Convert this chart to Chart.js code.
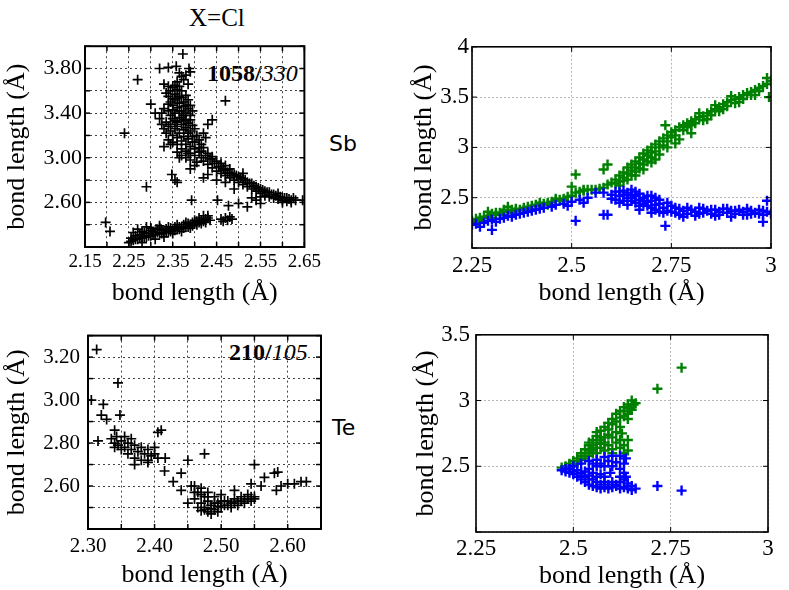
<!DOCTYPE html>
<html lang="en">
<head>
<meta charset="UTF-8">
<title>Bond length scatter, X=Cl</title>
<script src="https://cdn.jsdelivr.net/npm/chart.js"></script>
<style>
  body { margin: 0; background: #fff; }
  #page { position: relative; width: 789px; height: 590px; overflow: hidden; background: #fff; }
  canvas { position: absolute; }
  .txt { position: absolute; color: #000; white-space: nowrap; line-height: 1; }
  .serif { font-family: "Liberation Serif", "Times New Roman", serif; }
  .sans { font-family: "DejaVu Sans", sans-serif; }
</style>
</head>
<body>
<div id="page">
  <div class="txt serif" style="left:189px; top:5px; font-size:25px;">X=Cl</div>
  <div class="txt sans" style="left:329px; top:133px; font-size:22px;">Sb</div>
  <div class="txt sans" style="left:332px; top:417px; font-size:22px;">Te</div>
  <div class="txt serif" style="left:207px; top:61px; font-size:24px;"><b>1058/</b><i>330</i></div>
  <div class="txt serif" style="left:229px; top:340px; font-size:24px;"><b>210/</b><i>105</i></div>

  <canvas id="sbCl" width="325" height="280" style="left:0; top:30px;"></canvas>
  <canvas id="sbRight" width="395" height="280" style="left:390px; top:30px;"></canvas>
  <canvas id="teCl" width="330" height="277" style="left:0; top:315px;"></canvas>
  <canvas id="teRight" width="395" height="277" style="left:390px; top:315px;"></canvas>
</div>

<script>
// ---- data ----
const axisTitle = 'bond length (\u00c5)';

// Sb, X=Cl (left, black crosses)
const sbClPoints = [
  [2.373,3.93],[2.27,3.70],[2.32,3.80],[2.34,3.81],[2.358,3.82],[2.387,3.80],[2.39,3.77],[2.47,3.51],
  [2.24,3.22],[2.33,3.10],[2.29,2.74],[2.348,2.85],[2.355,2.80],[2.36,2.78],[2.197,2.42],[2.207,2.34],
  [2.393,2.62],[2.452,2.62],[2.477,2.57],[2.50,2.59],[2.52,2.56],[2.55,2.59],[2.646,2.62],[2.30,3.48],[2.31,3.40],
  [2.33,3.66],[2.34,3.64],[2.345,3.60],[2.35,3.63],[2.355,3.57],[2.36,3.61],[2.365,3.55],[2.37,3.60],
  [2.375,3.50],[2.38,3.56],[2.385,3.66],[2.375,3.70],[2.37,3.73],[2.365,3.76],[2.38,3.74],[2.36,3.68],
  [2.34,3.55],[2.345,3.50],[2.35,3.47],[2.355,3.52],[2.36,3.45],[2.365,3.49],[2.37,3.42],[2.375,3.46],
  [2.38,3.40],[2.385,3.44],[2.39,3.38],[2.395,3.42],[2.34,3.42],[2.345,3.38],[2.35,3.35],[2.355,3.40],
  [2.36,3.32],[2.365,3.36],[2.37,3.30],[2.375,3.34],[2.38,3.27],[2.385,3.31],[2.39,3.24],[2.395,3.29],
  [2.40,3.26],[2.405,3.20],[2.32,3.35],[2.325,3.30],[2.33,3.26],[2.335,3.22],[2.34,3.28],[2.345,3.24],
  [2.35,3.20],[2.355,3.26],[2.36,3.18],[2.365,3.22],[2.37,3.15],[2.375,3.19],[2.38,3.12],[2.385,3.17],
  [2.39,3.10],[2.395,3.14],[2.40,3.08],[2.41,3.16],[2.415,3.12],[2.42,3.22],[2.43,3.30],[2.44,3.34],
  [2.425,3.18],[2.36,3.05],[2.365,3.00],[2.37,3.02],[2.38,3.00],[2.385,3.04],[2.39,2.98],[2.40,3.02],[2.405,2.96],
  [2.335,3.58],[2.34,3.48],[2.35,3.43],[2.355,3.33],[2.36,3.28],[2.365,3.64],[2.37,3.54],[2.375,3.38],
  [2.38,3.33],[2.385,3.22],[2.39,3.34],[2.395,3.19],[2.40,3.14],[2.41,3.09],[2.345,3.30],[2.35,3.53],
  [2.355,3.65],[2.36,3.53],[2.365,3.42],[2.37,3.36],[2.375,3.25],[2.38,3.47],[2.385,3.52],[2.39,3.47],
  [2.33,3.44],[2.325,3.40],[2.335,3.32],[2.34,3.16],[2.345,3.12],[2.35,3.14],[2.36,3.12],[2.37,3.08],
  [2.38,3.06],[2.39,3.04],
  [2.41,3.05],[2.415,3.00],[2.42,2.97],[2.425,3.02],[2.43,2.94],[2.435,2.99],[2.44,2.91],[2.445,2.95],
  [2.45,2.88],[2.455,2.92],[2.46,2.86],[2.465,2.90],[2.47,2.84],[2.475,2.87],[2.48,2.82],[2.485,2.86],
  [2.49,2.80],[2.495,2.84],[2.50,2.78],[2.505,2.82],[2.51,2.76],[2.515,2.80],[2.52,2.74],[2.525,2.77],
  [2.53,2.72],[2.535,2.75],[2.54,2.70],[2.545,2.73],[2.55,2.68],[2.555,2.71],[2.56,2.66],[2.565,2.69],
  [2.57,2.65],[2.575,2.67],[2.58,2.64],[2.585,2.66],[2.59,2.63],[2.595,2.65],[2.60,2.62],[2.605,2.64],
  [2.61,2.61],[2.615,2.63],[2.62,2.62],[2.60,2.60],[2.59,2.68],[2.43,2.85],[2.42,2.82],[2.45,2.80],
  [2.47,2.78],[2.49,2.72],[2.55,2.65],[2.53,2.64],[2.54,2.62],[2.44,2.99],[2.46,2.95],[2.48,2.90],
  [2.51,2.86],[2.47,2.93],[2.40,2.93],[2.39,2.90],
  [2.415,3.06],[2.42,3.09],[2.43,3.04],[2.44,3.01],[2.45,2.97],[2.46,2.92],[2.47,2.89],[2.48,2.86],
  [2.49,2.85],[2.50,2.83],[2.51,2.81],[2.52,2.78],[2.53,2.77],[2.54,2.74],[2.55,2.72],[2.56,2.70],
  [2.57,2.69],[2.58,2.67],[2.60,2.64],[2.61,2.64],[2.62,2.60],[2.63,2.62],[2.625,2.64],
  [2.25,2.24],[2.255,2.28],[2.26,2.26],[2.265,2.30],[2.27,2.27],[2.275,2.31],[2.28,2.28],[2.285,2.33],
  [2.29,2.29],[2.295,2.32],[2.30,2.30],[2.305,2.34],[2.31,2.31],[2.315,2.33],[2.32,2.32],[2.325,2.35],
  [2.33,2.33],[2.335,2.36],[2.34,2.34],[2.345,2.37],[2.35,2.35],[2.355,2.38],[2.36,2.36],[2.365,2.38],
  [2.37,2.37],[2.375,2.40],[2.38,2.38],[2.385,2.41],[2.39,2.40],[2.395,2.42],[2.40,2.41],[2.405,2.43],
  [2.41,2.42],[2.415,2.44],[2.42,2.43],[2.425,2.45],[2.43,2.46],[2.27,2.36],[2.29,2.38],[2.28,2.24],
  [2.31,2.27],[2.33,2.29],[2.26,2.33],[2.30,2.37],[2.32,2.39],[2.35,2.32],[2.37,2.34],[2.39,2.37],
  [2.41,2.46],[2.42,2.48],[2.46,2.45],[2.465,2.43],[2.47,2.46],[2.475,2.44],[2.48,2.47],[2.485,2.45],
  [2.255,2.25],[2.265,2.27],[2.275,2.28],[2.285,2.29],[2.295,2.30],[2.305,2.31],[2.315,2.36],[2.325,2.32],
  [2.335,2.33],[2.345,2.34],[2.355,2.35],[2.365,2.36],[2.375,2.37],[2.385,2.38],[2.395,2.39],[2.405,2.40],
  [2.415,2.41],[2.425,2.42],[2.435,2.44],[2.43,2.48],[2.28,2.34],[2.30,2.35],[2.32,2.37],[2.34,2.38],
  [2.36,2.40],[2.38,2.42],[2.40,2.44]
];
const sbClXGrid = [2.15,2.20,2.25,2.30,2.35,2.40,2.45,2.50,2.55,2.60,2.65];
const sbClXLabels = [2.15,2.25,2.35,2.45,2.55,2.65];
const sbClYGrid = [2.2,2.4,2.6,2.8,3.0,3.2,3.4,3.6,3.8,4.0];
const sbClYLabels = [2.6,3.0,3.4,3.8];

// Sb (right, green = long bond, blue = short bond)
const sbGreenPoints = [
  [2.25,2.27],[2.26,2.29],[2.27,2.30],[2.265,2.26],[2.28,2.31],[2.29,2.32],[2.30,2.34],[2.30,2.30],
  [2.31,2.33],[2.32,2.35],[2.33,2.36],[2.33,2.33],[2.34,2.37],[2.35,2.38],[2.35,2.35],[2.36,2.39],
  [2.37,2.38],[2.38,2.40],[2.39,2.41],[2.40,2.42],[2.40,2.39],[2.41,2.43],[2.42,2.42],[2.43,2.44],
  [2.44,2.45],[2.45,2.46],[2.46,2.47],[2.47,2.48],[2.48,2.49],[2.49,2.51],[2.50,2.52],[2.51,2.55],
  [2.52,2.56],[2.53,2.57],[2.54,2.58],[2.55,2.58],[2.56,2.58],[2.57,2.59],[2.58,2.60],[2.59,2.63],
  [2.60,2.65],[2.61,2.68],[2.62,2.72],[2.62,2.66],[2.63,2.75],[2.63,2.70],[2.64,2.80],[2.64,2.74],
  [2.65,2.83],[2.65,2.77],[2.66,2.86],[2.66,2.80],[2.67,2.90],[2.67,2.84],[2.68,2.94],[2.68,2.88],
  [2.69,2.97],[2.69,2.92],[2.70,3.00],[2.70,2.95],[2.71,3.03],[2.72,3.06],[2.72,3.00],[2.73,3.09],
  [2.74,3.12],[2.75,3.15],[2.75,3.10],[2.76,3.17],[2.77,3.20],[2.78,3.22],[2.79,3.24],[2.80,3.26],
  [2.80,3.22],[2.81,3.28],[2.82,3.30],[2.83,3.31],[2.84,3.34],[2.85,3.36],[2.86,3.38],[2.87,3.40],
  [2.88,3.43],[2.89,3.45],[2.90,3.47],[2.91,3.48],[2.92,3.50],[2.93,3.52],[2.94,3.54],[2.95,3.55],
  [2.96,3.57],[2.97,3.59],[2.98,3.61],[2.99,3.63],[2.99,3.69],[3.0,3.66],[2.995,3.50],
  [2.51,2.73],[2.58,2.78],[2.59,2.83],[2.735,3.22],[2.53,2.58],[2.50,2.61],[2.71,2.88],[2.76,3.04],
  [2.34,2.41],[2.29,2.36],
  [2.27,2.28],[2.29,2.30],[2.31,2.35],[2.33,2.38],[2.36,2.37],[2.38,2.38],[2.42,2.45],[2.44,2.43],
  [2.46,2.49],[2.48,2.47],[2.61,2.64],[2.63,2.67],[2.65,2.72],[2.66,2.76],[2.67,2.79],[2.68,2.83],
  [2.69,2.86],[2.70,2.90],[2.71,2.96],[2.73,3.02],[2.74,3.06],[2.76,3.12],[2.78,3.17],[2.79,3.20],
  [2.81,3.24],[2.83,3.27],[2.85,3.32],[2.87,3.36],[2.89,3.41],[2.91,3.44],[2.93,3.48],[2.95,3.52],[2.97,3.56],
  [2.62,2.62],[2.64,2.68],[2.66,2.72],[2.68,2.78],[2.70,2.85],[2.72,2.93],[2.74,3.00],[2.77,3.08],
  [2.80,3.14],[2.84,3.28],[2.88,3.38],[2.92,3.45],[2.96,3.52],[2.82,3.34],[2.86,3.42],[2.90,3.51]
];
const sbBluePoints = [
  [2.25,2.23],[2.26,2.24],[2.27,2.21],[2.28,2.25],[2.29,2.27],[2.30,2.18],[2.30,2.28],[2.31,2.26],
  [2.32,2.29],[2.33,2.30],[2.34,2.32],[2.35,2.31],[2.36,2.33],[2.37,2.34],[2.38,2.35],[2.39,2.36],
  [2.40,2.37],[2.41,2.38],[2.42,2.39],[2.43,2.40],[2.45,2.41],[2.46,2.43],[2.48,2.44],[2.49,2.42],
  [2.50,2.46],[2.51,2.27],[2.52,2.48],[2.53,2.45],[2.54,2.50],[2.56,2.55],[2.58,2.33],[2.59,2.33],
  [2.58,2.55],[2.60,2.53],[2.61,2.56],[2.62,2.52],[2.63,2.57],[2.64,2.50],[2.64,2.55],[2.65,2.58],
  [2.65,2.47],[2.66,2.52],[2.66,2.45],[2.67,2.54],[2.67,2.48],[2.68,2.44],[2.68,2.50],[2.69,2.52],
  [2.69,2.42],[2.70,2.47],[2.70,2.40],[2.71,2.50],[2.71,2.38],[2.72,2.44],[2.72,2.36],[2.73,2.40],
  [2.735,2.22],[2.74,2.37],[2.75,2.42],[2.76,2.35],[2.77,2.39],[2.78,2.37],[2.79,2.34],[2.80,2.38],
  [2.81,2.36],[2.82,2.40],[2.83,2.35],[2.84,2.37],[2.85,2.34],[2.86,2.38],[2.87,2.36],[2.88,2.39],
  [2.89,2.35],[2.90,2.37],[2.91,2.34],[2.92,2.38],[2.93,2.36],[2.94,2.33],[2.95,2.37],[2.96,2.35],
  [2.97,2.38],[2.98,2.33],[2.98,2.26],[2.99,2.36],[2.99,2.47],[3.0,2.34],
  [2.60,2.49],[2.62,2.56],[2.63,2.47],[2.65,2.53],[2.67,2.42],[2.69,2.46],[2.71,2.43],[2.73,2.35],
  [2.75,2.36],[2.77,2.33],[2.79,2.40],[2.81,2.32],[2.83,2.39],[2.85,2.38],[2.87,2.33],[2.89,2.39],
  [2.91,2.37],[2.93,2.33],[2.95,2.34],[2.97,2.34],
  [2.61,2.48],[2.63,2.53],[2.65,2.50],[2.66,2.56],[2.68,2.47],[2.70,2.52],[2.72,2.48],[2.74,2.45],
  [2.76,2.40],[2.62,2.45],[2.64,2.43],[2.67,2.38],[2.70,2.35],[2.78,2.31],[2.82,2.34],[2.86,2.32],
  [2.90,2.31],[2.94,2.39],[2.98,2.37]
];
const rightXGrid = [2.25,2.5,2.75,3];
const rightXLabels = ['2.25','2.5','2.75','3'];
const sbRightYGrid = [2,2.5,3,3.5,4];
const sbRightYLabels = ['','2.5','3','3.5','4'];

// Te, X=Cl (left, black crosses)
const teClPoints = [
  [2.313,3.235],[2.345,3.08],[2.305,3.00],[2.323,2.98],[2.32,2.93],[2.328,2.91],[2.348,2.93],[2.315,2.81],
  [2.34,2.86],[2.343,2.83],[2.335,2.82],[2.34,2.80],[2.345,2.79],[2.35,2.81],[2.355,2.78],[2.36,2.80],
  [2.365,2.77],[2.37,2.79],[2.375,2.76],[2.38,2.78],[2.385,2.75],[2.39,2.77],[2.395,2.74],[2.40,2.75],
  [2.405,2.73],[2.34,2.78],[2.35,2.77],[2.36,2.75],[2.37,2.73],[2.38,2.72],[2.39,2.72],[2.355,2.83],
  [2.365,2.82],[2.405,2.85],[2.41,2.86],[2.40,2.78],[2.37,2.70],[2.39,2.71],[2.416,2.73],[2.45,2.72],
  [2.415,2.67],[2.428,2.62],[2.44,2.66],[2.475,2.75],[2.44,2.58],[2.455,2.60],[2.45,2.52],
  [2.46,2.60],[2.465,2.57],[2.47,2.59],[2.475,2.55],[2.48,2.57],[2.46,2.54],[2.47,2.52],[2.475,2.50],
  [2.48,2.53],[2.485,2.51],[2.49,2.49],[2.49,2.55],[2.495,2.52],[2.50,2.50],[2.50,2.56],[2.505,2.51],
  [2.48,2.48],[2.47,2.485],[2.485,2.47],[2.495,2.48],[2.465,2.50],
  [2.475,2.49],[2.485,2.495],[2.49,2.52],[2.48,2.55],[2.47,2.56],[2.46,2.57],[2.50,2.53],[2.495,2.505],
  [2.505,2.53],[2.515,2.50],[2.525,2.51],[2.535,2.52],[2.545,2.53],[2.55,2.54],
  [2.51,2.51],[2.515,2.52],[2.52,2.52],[2.525,2.53],[2.53,2.53],[2.535,2.54],[2.54,2.54],[2.545,2.55],
  [2.55,2.55],[2.51,2.53],[2.52,2.54],[2.53,2.55],[2.54,2.56],
  [2.52,2.58],[2.545,2.61],[2.55,2.70],[2.565,2.64],[2.58,2.66],[2.585,2.665],[2.583,2.58],[2.59,2.60],
  [2.60,2.61],[2.61,2.61],[2.62,2.62],[2.628,2.62],[2.56,2.60]
];
const teClXGrid = [2.30,2.35,2.40,2.45,2.50,2.55,2.60,2.65];
const teClXLabels = [2.30,2.40,2.50,2.60];
const teClYGrid = [2.4,2.5,2.6,2.7,2.8,2.9,3.0,3.1,3.2,3.3];
const teClYLabels = [2.6,2.8,3.0,3.2];

// Te (right, green = long bond, blue = short bond)
const teGreenPoints = [
  [2.47,2.49],[2.48,2.50],[2.49,2.52],[2.50,2.54],[2.51,2.56],[2.52,2.60],[2.53,2.63],[2.54,2.66],
  [2.55,2.70],[2.56,2.73],[2.57,2.77],[2.58,2.80],[2.59,2.83],[2.60,2.86],[2.61,2.90],[2.62,2.92],
  [2.63,2.95],[2.64,2.97],[2.65,3.00],[2.66,2.98],[2.645,2.94],[2.63,2.88],[2.64,2.86],[2.62,2.87],
  [2.61,2.84],[2.60,2.82],[2.59,2.78],[2.57,2.72],[2.55,2.66],[2.53,2.60],[2.51,2.54],[2.50,2.51],
  [2.52,2.55],[2.54,2.58],[2.56,2.60],[2.58,2.62],[2.60,2.63],[2.62,2.64],[2.63,2.66],[2.62,2.70],
  [2.625,2.75],[2.61,2.68],[2.59,2.66],[2.57,2.64],[2.55,2.62],[2.56,2.68],[2.58,2.72],[2.54,2.68],
  [2.53,2.56],[2.49,2.50],[2.56,2.76],[2.57,2.70],[2.545,2.63],[2.60,2.60],[2.63,2.60],
  [2.52,2.58],[2.54,2.62],[2.56,2.64],[2.58,2.68],[2.60,2.72],[2.61,2.76],[2.62,2.80],[2.64,2.90],
  [2.65,2.93],[2.655,2.97],[2.63,2.92],[2.59,2.74],[2.57,2.67],[2.55,2.60],[2.51,2.52],[2.48,2.49],
  [2.64,2.62],[2.64,2.70],
  [2.716,3.09],[2.778,3.25]
];
const teBluePoints = [
  [2.47,2.47],[2.48,2.46],[2.49,2.45],[2.50,2.44],[2.51,2.42],[2.52,2.40],[2.53,2.38],[2.54,2.36],
  [2.55,2.35],[2.56,2.34],[2.57,2.33],[2.58,2.34],[2.59,2.33],[2.60,2.34],[2.61,2.35],[2.62,2.33],
  [2.63,2.34],[2.64,2.33],[2.65,2.32],[2.66,2.33],[2.64,2.37],[2.63,2.40],[2.62,2.42],[2.63,2.45],
  [2.62,2.48],[2.63,2.52],[2.635,2.56],[2.62,2.58],[2.60,2.58],[2.58,2.57],[2.56,2.55],[2.54,2.54],
  [2.52,2.52],[2.50,2.50],[2.49,2.48],[2.51,2.47],[2.53,2.46],[2.55,2.45],[2.57,2.44],[2.58,2.42],
  [2.55,2.40],[2.53,2.42],[2.56,2.38],[2.58,2.38],[2.60,2.38],[2.595,2.45],[2.60,2.50],[2.58,2.50],
  [2.56,2.50],[2.54,2.48],[2.61,2.53],[2.635,2.42],[2.62,2.38],
  [2.48,2.48],[2.50,2.46],[2.52,2.45],[2.54,2.43],[2.52,2.43],[2.54,2.40],[2.56,2.42],[2.57,2.36],
  [2.59,2.36],[2.61,2.36],[2.64,2.35],[2.65,2.35],[2.57,2.52],[2.59,2.54],[2.55,2.52],
  [2.716,2.35],[2.778,2.315]
];
const teRightYGrid = [2,2.5,3,3.5];
const teRightYLabels = ['','2.5','3','3.5'];

// ---- drawing ----
const SERIF = '"Liberation Serif", "Times New Roman", serif';
const toXY = pts => pts.map(p => ({ x: p[0], y: p[1] }));
const near = (a, b) => Math.abs(a - b) < 1e-6;

// full box and inward tick marks, as the original plots have
const framePlugin = {
  id: 'frame',
  afterDraw(chart, args, opts) {
    const { ctx, chartArea: a, scales } = chart;
    ctx.save();
    ctx.strokeStyle = '#000';
    ctx.lineWidth = opts.tickWidth;
    const seg = (x1, y1, x2, y2) => { ctx.beginPath(); ctx.moveTo(x1, y1); ctx.lineTo(x2, y2); ctx.stroke(); };
    scales.x.ticks.forEach(t => {
      const px = scales.x.getPixelForValue(t.value);
      seg(px, a.bottom, px, a.bottom - opts.tickLen);
      seg(px, a.top, px, a.top + opts.tickLen);
    });
    scales.y.ticks.forEach(t => {
      const py = scales.y.getPixelForValue(t.value);
      seg(a.left, py, a.left + opts.tickLen, py);
      seg(a.right, py, a.right - opts.tickLen, py);
    });
    ctx.lineWidth = opts.boxWidth;
    ctx.strokeRect(a.left, a.top, a.right - a.left, a.bottom - a.top);
    ctx.restore();
  }
};

function makePanel(id, cfg) {
  const axis = (grid, labelFn, min, max, size, tickSize, tickPad, titlePad, isY) => ({
    type: 'linear',
    min: min,
    max: max,
    afterBuildTicks: s => { s.ticks = grid.map(v => ({ value: v })); },
    afterFit: s => { if (isY) s.width = size; else s.height = size; },
    ticks: {
      autoSkip: false,
      maxRotation: 0,
      minRotation: 0,
      padding: tickPad,
      color: '#000',
      font: { family: SERIF, size: tickSize },
      callback: v => labelFn(v)
    },
    grid: { color: cfg.gridColor, lineWidth: 1, drawTicks: false },
    border: { display: false, dash: cfg.gridDash },
    title: {
      display: true,
      text: axisTitle,
      color: '#000',
      font: { family: SERIF, size: cfg.titleSize },
      padding: isY ? { top: titlePad } : { bottom: titlePad }
    }
  });

  return new Chart(document.getElementById(id), {
    type: 'scatter',
    data: {
      datasets: cfg.series.map(s => ({
        data: toXY(s.points),
        pointStyle: 'cross',
        pointRadius: cfg.markRadius,
        pointBorderWidth: cfg.markWidth,
        borderColor: s.color,
        backgroundColor: s.color
      }))
    },
    options: {
      responsive: false,
      animation: false,
      events: [],
      layout: { padding: { top: cfg.padTop, right: cfg.padRight, left: 0, bottom: 0 } },
      plugins: {
        legend: { display: false },
        tooltip: { enabled: false },
        frame: { tickLen: 5, tickWidth: cfg.tickWidth, boxWidth: cfg.boxWidth }
      },
      scales: {
        x: axis(cfg.xGrid, cfg.xLabel, cfg.xMin, cfg.xMax, cfg.xAxisH, cfg.xTickSize, cfg.xTickPad, cfg.xTitlePad, false),
        y: axis(cfg.yGrid, cfg.yLabel, cfg.yMin, cfg.yMax, cfg.yAxisW, cfg.yTickSize, cfg.yTickPad, cfg.yTitlePad, true)
      }
    },
    plugins: [framePlugin]
  });
}

const fixedLabels = list => v => (list.some(l => near(l, v)) ? v.toFixed(2) : '');
const textLabels = (grid, list) => v => {
  const i = grid.findIndex(g => near(g, v));
  return i >= 0 ? list[i] : '';
};

const leftStyle = {
  gridColor: '#444', gridDash: [2, 3], titleSize: 26,
  markRadius: 5, markWidth: 1.7, tickWidth: 1.5, boxWidth: 2
};
const rightStyle = {
  gridColor: '#b5b5b5', gridDash: [2, 2], titleSize: 26, xTickSize: 23, yTickSize: 23,
  markRadius: 5, markWidth: 2.4, tickWidth: 1, boxWidth: 1.6
};

makePanel('sbCl', Object.assign({}, leftStyle, {
  series: [{ points: sbClPoints, color: '#000' }],
  xGrid: sbClXGrid, xLabel: fixedLabels(sbClXLabels), xMin: 2.15, xMax: 2.65,
  yGrid: sbClYGrid, yLabel: fixedLabels(sbClYLabels), yMin: 2.2, yMax: 4.0,
  xTickSize: 19, yTickSize: 22,
  padTop: 12, padRight: 8, xAxisH: 63, yAxisW: 85,
  xTickPad: 4, yTickPad: 3, xTitlePad: 1, yTitlePad: 2
}));

makePanel('sbRight', Object.assign({}, rightStyle, {
  series: [{ points: sbBluePoints, color: '#0000ff' }, { points: sbGreenPoints, color: '#008000' }],
  xGrid: rightXGrid, xLabel: textLabels(rightXGrid, rightXLabels), xMin: 2.25, xMax: 3,
  yGrid: sbRightYGrid, yLabel: textLabels(sbRightYGrid, sbRightYLabels), yMin: 2, yMax: 4,
  padTop: 13, padRight: 14, xAxisH: 62, yAxisW: 82,
  xTickPad: 4, yTickPad: 3, xTitlePad: 1, yTitlePad: 19
}));

makePanel('teCl', Object.assign({}, leftStyle, {
  series: [{ points: teClPoints, color: '#000' }],
  xGrid: teClXGrid, xLabel: fixedLabels(teClXLabels), xMin: 2.30, xMax: 2.65,
  yGrid: teClYGrid, yLabel: fixedLabels(teClYLabels), yMin: 2.4, yMax: 3.3,
  xTickSize: 21, yTickSize: 21,
  padTop: 11, padRight: 9, xAxisH: 63, yAxisW: 88,
  xTickPad: 5, yTickPad: 8, xTitlePad: 1, yTitlePad: 2
}));

makePanel('teRight', Object.assign({}, rightStyle, {
  series: [{ points: teBluePoints, color: '#0000ff' }, { points: teGreenPoints, color: '#008000' }],
  xGrid: rightXGrid, xLabel: textLabels(rightXGrid, rightXLabels), xMin: 2.25, xMax: 3,
  yGrid: teRightYGrid, yLabel: textLabels(teRightYGrid, teRightYLabels), yMin: 2, yMax: 3.5,
  padTop: 16, padRight: 17, xAxisH: 60, yAxisW: 86,
  xTickPad: 3, yTickPad: 6, xTitlePad: 0, yTitlePad: 21
}));
</script>
</body>
</html>
